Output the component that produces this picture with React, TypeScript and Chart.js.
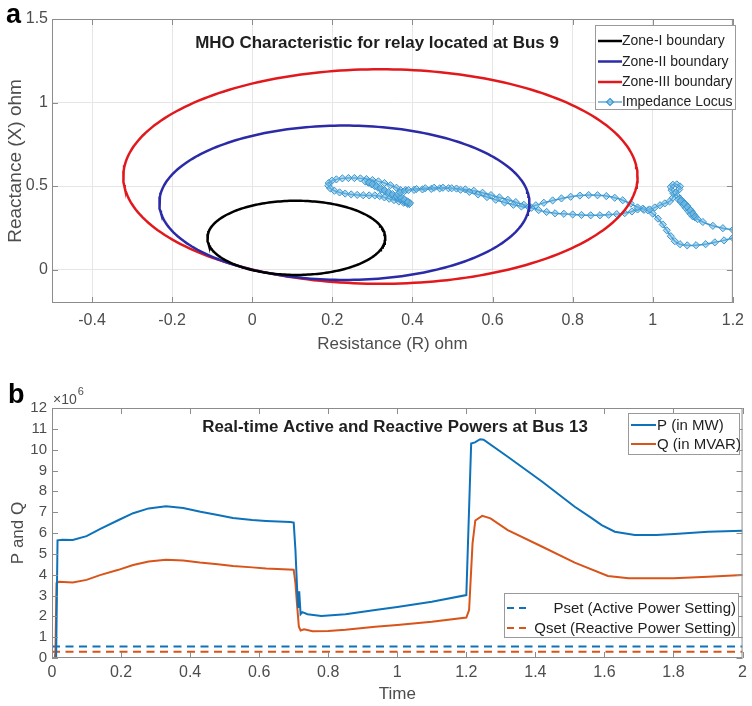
import React, { useEffect, useRef } from "react";
import { Chart, registerables } from "chart.js";

Chart.register(...registerables);

const FONT = "'Liberation Sans', Arial, Helvetica, sans-serif";
const TICK_COLOR = "#4d4d4d";
const TEXT_COLOR = "#1f1f1f";
const FRAME_COLOR = "#8c8c8c";

// ---------------- Panel a : MHO characteristic ----------------
const zoneNames = ["Zone-I boundary", "Zone-II boundary", "Zone-III boundary"];
const zoneColors = ["#000000", "#2b2ba8", "#e2191c"];
const zoneCenterR = [0.11, 0.23, 0.32];
const zoneCenterX = [0.19, 0.4, 0.557];
const zoneRadius = [0.222, 0.462, 0.642];

const locusR = [
  1.2, 1.178, 1.155, 1.132, 1.108, 1.086, 1.068, 1.055, 1.045, 1.035, 1.025, 1.013, 1.0, 0.988, 0.975,
  0.962, 0.948, 0.93, 0.91, 0.89, 0.868, 0.845, 0.822, 0.8, 0.778, 0.756, 0.735, 0.715, 0.697, 0.678,
  0.658, 0.638, 0.617, 0.596, 0.575, 0.553, 0.532, 0.51, 0.49, 0.468, 0.447, 0.425, 0.404, 0.383, 0.37,
  0.36, 0.345, 0.33, 0.315, 0.3, 0.285, 0.27, 0.255, 0.24, 0.225, 0.21, 0.199, 0.191, 0.19, 0.195,
  0.205, 0.218, 0.232, 0.247, 0.262, 0.277, 0.292, 0.306,
  0.318, 0.33, 0.342, 0.354, 0.366, 0.378, 0.388, 0.392, 0.386, 0.378, 0.37, 0.362, 0.354, 0.346, 0.338,
  0.33, 0.322, 0.314, 0.306, 0.298, 0.29, 0.282, 0.292, 0.3, 0.31, 0.32, 0.33, 0.34, 0.35, 0.36, 0.37,
  0.38, 0.39, 0.394, 0.386, 0.378, 0.37, 0.364, 0.37, 0.38, 0.39,
  0.41, 0.432, 0.454, 0.476, 0.498, 0.52, 0.542, 0.564, 0.586, 0.608, 0.63, 0.652, 0.672, 0.69, 0.708,
  0.728, 0.75, 0.772, 0.795, 0.818, 0.84, 0.862, 0.884, 0.905, 0.925, 0.945, 0.962, 0.978, 0.992, 1.005,
  1.018, 1.03, 1.042,
  1.05, 1.052, 1.047, 1.045, 1.05, 1.06, 1.068, 1.066, 1.058,
  1.062, 1.068, 1.074, 1.08, 1.086, 1.092, 1.098, 1.102, 1.106, 1.1, 1.094, 1.088, 1.082, 1.076, 1.07,
  1.064, 1.07, 1.078, 1.086, 1.094, 1.1, 1.106, 1.112,
  1.125, 1.15, 1.175, 1.2,
];
const locusX = [
  0.19, 0.175, 0.163, 0.152, 0.146, 0.145, 0.152, 0.17, 0.2, 0.235, 0.27, 0.305, 0.335, 0.355, 0.365,
  0.36, 0.348, 0.338, 0.332, 0.328, 0.325, 0.325, 0.327, 0.33, 0.334, 0.337, 0.345, 0.356, 0.37, 0.388,
  0.404, 0.418, 0.432, 0.446, 0.46, 0.472, 0.48, 0.485, 0.487, 0.486, 0.483, 0.48, 0.477, 0.476, 0.476,
  0.49, 0.505, 0.518, 0.528, 0.536, 0.542, 0.546, 0.548, 0.548, 0.546, 0.54, 0.532, 0.518, 0.502, 0.486,
  0.472, 0.462, 0.455, 0.45, 0.447, 0.445, 0.444, 0.444,
  0.44, 0.432, 0.424, 0.416, 0.408, 0.4, 0.394, 0.392, 0.4, 0.41, 0.42, 0.43, 0.44, 0.45, 0.46,
  0.47, 0.48, 0.49, 0.5, 0.51, 0.52, 0.528, 0.522, 0.512, 0.5, 0.488, 0.476, 0.464, 0.452, 0.44, 0.428,
  0.416, 0.404, 0.398, 0.41, 0.424, 0.438, 0.452, 0.462, 0.47, 0.476,
  0.482, 0.487, 0.49, 0.49, 0.487, 0.478, 0.465, 0.45, 0.434, 0.418, 0.402, 0.388, 0.378, 0.375, 0.385,
  0.4, 0.414, 0.426, 0.436, 0.443, 0.446, 0.445, 0.44, 0.43, 0.415, 0.395, 0.372, 0.358, 0.36, 0.372,
  0.385, 0.396, 0.408,
  0.43, 0.455, 0.475, 0.495, 0.508, 0.51, 0.498, 0.48, 0.462,
  0.44, 0.425, 0.41, 0.395, 0.38, 0.362, 0.345, 0.328, 0.312, 0.318, 0.335, 0.352, 0.37, 0.388, 0.405,
  0.42, 0.412, 0.395, 0.375, 0.355, 0.335, 0.318, 0.302,
  0.285, 0.262, 0.248, 0.238,
];
const rTicks = [-0.4, -0.2, 0, 0.2, 0.4, 0.6, 0.8, 1, 1.2];
const xTicks = [0, 0.5, 1, 1.5];

// ---------------- Panel b : P and Q ----------------
const timeP = [
  0, 0.012, 0.016, 0.03, 0.06, 0.1, 0.14, 0.19, 0.235, 0.28, 0.33, 0.38, 0.43, 0.48, 0.524, 0.58, 0.62,
  0.69, 0.7, 0.705, 0.71, 0.713, 0.716, 0.72, 0.725, 0.74, 0.78, 0.85, 0.936, 1.0, 1.1, 1.2, 1.214,
  1.225, 1.24, 1.25, 1.32, 1.42, 1.514, 1.56, 1.592, 1.63, 1.688, 1.75, 1.803, 1.9, 2.0,
];
const pValues = [
  0, 0, 5.65, 5.68, 5.66, 5.85, 6.2, 6.6, 6.95, 7.18, 7.28, 7.2, 7.02, 6.86, 6.72, 6.62, 6.58,
  6.53, 6.5, 5.2, 3.3, 2.4, 3.2, 2.1, 2.2, 2.1, 2.02, 2.1, 2.3, 2.45, 2.7, 3.02, 10.3,
  10.35, 10.5, 10.48, 9.66, 8.46, 7.26, 6.75, 6.38, 6.06, 5.9, 5.9, 5.95, 6.06, 6.11,
];
const timeQ = [
  0, 0.008, 0.01, 0.013, 0.02, 0.06, 0.1, 0.139, 0.19, 0.235, 0.28, 0.33, 0.38, 0.428, 0.48, 0.524,
  0.58, 0.62, 0.7, 0.705, 0.71, 0.715, 0.72, 0.73, 0.755, 0.8, 0.85, 0.936, 1.0, 1.1, 1.2, 1.208,
  1.218, 1.226, 1.246, 1.27, 1.32, 1.42, 1.514, 1.61, 1.67, 1.8, 1.9, 2.0,
];
const qValues = [
  0, 0, 0.3, 3.6, 3.66, 3.62, 3.75, 3.98, 4.22, 4.46, 4.63, 4.72, 4.68, 4.58, 4.5, 4.42,
  4.35, 4.3, 4.24, 3.6, 2.5, 1.5, 1.32, 1.38, 1.28, 1.3, 1.36, 1.5, 1.58, 1.74, 1.94, 2.3,
  5.5, 6.6, 6.82, 6.7, 6.14, 5.34, 4.58, 3.94, 3.83, 3.83, 3.9, 3.98,
];
const settingTime = [0, 2];
const pSetValues = [0.55, 0.55];
const qSetValues = [0.3, 0.3];
const timeTicks = [0, 0.2, 0.4, 0.6, 0.8, 1, 1.2, 1.4, 1.6, 1.8, 2];
const pqTicks = [0, 1, 2, 3, 4, 5, 6, 7, 8, 9, 10, 11, 12];

const P_COLOR = "#0d72b9";
const Q_COLOR = "#d9541a";
const LOCUS_COLOR = "#3a96cf";

// ---------------- helpers ----------------
function circlePoints(cx: number, cy: number, r: number) {
  const pts: { x: number; y: number }[] = [];
  const n = 240;
  for (let k = 0; k <= n; k++) {
    const a = (k / n) * 2 * Math.PI;
    pts.push({ x: cx + r * Math.cos(a), y: cy + r * Math.sin(a) });
  }
  return pts;
}
const zip = (xs: number[], ys: number[]) => xs.map((x, i) => ({ x, y: ys[i] }));
const fmt = (v: number) => String(Math.round(v * 100) / 100);

function fitText(ctx: CanvasRenderingContext2D, text: string, cx: number, cy: number, width: number, weight: string) {
  ctx.font = `${weight} 20px ${FONT}`;
  const w = ctx.measureText(text).width;
  const size = (20 * width) / w;
  ctx.font = `${weight} ${size}px ${FONT}`;
  ctx.textAlign = "center";
  ctx.textBaseline = "middle";
  ctx.fillText(text, cx, cy);
}

function legendBox(ctx: CanvasRenderingContext2D, x: number, y: number, w: number, h: number) {
  ctx.fillStyle = "#ffffff";
  ctx.fillRect(x, y, w, h);
  ctx.strokeStyle = "#9a9a9a";
  ctx.lineWidth = 1;
  ctx.strokeRect(x + 0.5, y + 0.5, w, h);
}

const framePlugin = {
  id: "frame",
  afterDraw(chart: any) {
    const { ctx, chartArea, scales } = chart;
    const { left, right, top, bottom } = chartArea;
    ctx.save();
    ctx.strokeStyle = FRAME_COLOR;
    ctx.lineWidth = 1;
    ctx.strokeRect(left + 0.5, top + 0.5, right - left - 1, bottom - top - 1);
    const L = 6;
    ctx.beginPath();
    scales.x.ticks.forEach((t: any) => {
      const px = Math.round(scales.x.getPixelForValue(t.value)) + 0.5;
      ctx.moveTo(px, bottom);
      ctx.lineTo(px, bottom - L);
      ctx.moveTo(px, top);
      ctx.lineTo(px, top + L);
    });
    scales.y.ticks.forEach((t: any) => {
      const py = Math.round(scales.y.getPixelForValue(t.value)) + 0.5;
      ctx.moveTo(left, py);
      ctx.lineTo(left + L, py);
      ctx.moveTo(right, py);
      ctx.lineTo(right - L, py);
    });
    ctx.stroke();
    ctx.restore();
  },
};

const overlayA = {
  id: "overlayA",
  afterDraw(chart: any) {
    const ctx: CanvasRenderingContext2D = chart.ctx;
    ctx.save();
    ctx.fillStyle = "#000";
    ctx.font = `bold 27px ${FONT}`;
    ctx.textAlign = "left";
    ctx.textBaseline = "alphabetic";
    ctx.fillText("a", 6, 23);
    ctx.fillStyle = TEXT_COLOR;
    fitText(ctx, "MHO Characteristic for relay located at Bus 9", 377, 43, 364, "bold");
    legendBox(ctx, 595, 25, 140, 84);
    const rows = [41, 61.5, 82, 102];
    ctx.font = `14px ${FONT}`;
    ctx.textAlign = "left";
    ctx.textBaseline = "middle";
    zoneNames.forEach((name, i) => {
      ctx.strokeStyle = zoneColors[i];
      ctx.lineWidth = 2.5;
      ctx.beginPath();
      ctx.moveTo(598, rows[i]);
      ctx.lineTo(622, rows[i]);
      ctx.stroke();
      ctx.fillStyle = TEXT_COLOR;
      ctx.fillText(name, 622, rows[i] + 0.5);
    });
    ctx.strokeStyle = LOCUS_COLOR;
    ctx.lineWidth = 1.2;
    ctx.beginPath();
    ctx.moveTo(598, rows[3]);
    ctx.lineTo(622, rows[3]);
    ctx.stroke();
    ctx.fillStyle = "rgba(120,190,230,0.6)";
    ctx.beginPath();
    ctx.moveTo(610, rows[3] - 3.5);
    ctx.lineTo(613.5, rows[3]);
    ctx.lineTo(610, rows[3] + 3.5);
    ctx.lineTo(606.5, rows[3]);
    ctx.closePath();
    ctx.fill();
    ctx.stroke();
    ctx.fillStyle = TEXT_COLOR;
    ctx.fillText("Impedance Locus", 622, rows[3] + 0.5);
    ctx.restore();
  },
};

const overlayB = {
  id: "overlayB",
  afterDraw(chart: any) {
    const ctx: CanvasRenderingContext2D = chart.ctx;
    ctx.save();
    ctx.fillStyle = "#000";
    ctx.font = `bold 27px ${FONT}`;
    ctx.textAlign = "left";
    ctx.textBaseline = "alphabetic";
    ctx.fillText("b", 8, 48);
    ctx.fillStyle = TICK_COLOR;
    ctx.font = `14px ${FONT}`;
    ctx.fillText("\u00d710", 53, 49);
    const w10 = ctx.measureText("\u00d710").width;
    ctx.font = `11px ${FONT}`;
    ctx.fillText("6", 53 + w10 + 1, 40);
    ctx.fillStyle = TEXT_COLOR;
    fitText(ctx, "Real-time Active and Reactive Powers at Bus 13", 395, 72, 386, "bold");
    legendBox(ctx, 628, 58, 111, 41);
    ctx.font = `15px ${FONT}`;
    ctx.textBaseline = "middle";
    ctx.textAlign = "left";
    const l1 = [
      { y: 70, c: P_COLOR, t: "P (in MW)" },
      { y: 89, c: Q_COLOR, t: "Q (in MVAR)" },
    ];
    l1.forEach((e) => {
      ctx.strokeStyle = e.c;
      ctx.lineWidth = 2;
      ctx.beginPath();
      ctx.moveTo(631, e.y);
      ctx.lineTo(656, e.y);
      ctx.stroke();
      ctx.fillStyle = TEXT_COLOR;
      ctx.fillText(e.t, 657, e.y + 0.5);
    });
    legendBox(ctx, 504, 238, 234, 44);
    const l2 = [
      { y: 253, c: P_COLOR, t: "Pset (Active Power Setting)" },
      { y: 273, c: Q_COLOR, t: "Qset (Reactive Power Setting)" },
    ];
    ctx.textAlign = "right";
    l2.forEach((e) => {
      ctx.strokeStyle = e.c;
      ctx.lineWidth = 2;
      ctx.setLineDash([7, 5]);
      ctx.beginPath();
      ctx.moveTo(507, e.y);
      ctx.lineTo(527, e.y);
      ctx.stroke();
      ctx.setLineDash([]);
      ctx.fillStyle = TEXT_COLOR;
      ctx.fillText(e.t, 736, e.y + 0.5);
    });
    ctx.restore();
  },
};

function makeChartA(canvas: HTMLCanvasElement) {
  const W = 752;
  const H = 355;
  const datasets: any[] = zoneNames.map((name, i) => ({
    label: name,
    data: circlePoints(zoneCenterR[i], zoneCenterX[i], zoneRadius[i]),
    showLine: true,
    borderColor: zoneColors[i],
    borderWidth: 2.5,
    pointRadius: 0,
    fill: false,
    tension: 0,
  }));
  datasets.push({
    label: "Impedance Locus",
    data: zip(locusR, locusX),
    showLine: true,
    borderColor: LOCUS_COLOR,
    borderWidth: 1.5,
    pointStyle: "rectRot",
    pointRadius: 3.6,
    pointBorderWidth: 1,
    pointBorderColor: LOCUS_COLOR,
    pointBackgroundColor: "rgba(120,190,230,0.55)",
    fill: false,
    tension: 0.2,
    clip: 0,
  });
  return new Chart(canvas, {
    type: "scatter",
    data: { datasets },
    options: {
      responsive: false,
      animation: false,
      events: [],
      layout: { padding: { left: 0, top: 19, right: W - 741, bottom: 0 } },
      plugins: { legend: { display: false }, tooltip: { enabled: false } },
      scales: {
        x: {
          type: "linear",
          min: -0.5,
          max: 1.2,
          afterBuildTicks: (s: any) => {
            s.ticks = rTicks.map((v) => ({ value: v }));
          },
          afterFit: (s: any) => {
            s.height = H - 303;
          },
          grid: { color: "#e6e6e6", drawTicks: false },
          border: { display: false },
          ticks: { color: TICK_COLOR, font: { size: 16, family: FONT }, padding: 8, autoSkip: false, callback: (v: any) => fmt(v), maxRotation: 0 },
          title: { display: true, text: "Resistance (R) ohm", color: TICK_COLOR, font: { size: 17, family: FONT }, padding: { top: 0, bottom: 0 } },
        },
        y: {
          type: "linear",
          min: -0.2,
          max: 1.5,
          afterBuildTicks: (s: any) => {
            s.ticks = xTicks.map((v) => ({ value: v }));
          },
          afterFit: (s: any) => {
            s.width = 52;
          },
          grid: { color: "#e6e6e6", drawTicks: false },
          border: { display: false },
          ticks: { color: TICK_COLOR, font: { size: 16, family: FONT }, padding: 4, autoSkip: false, callback: (v: any) => fmt(v) },
          title: { display: true, text: "Reactance (X) ohm", color: TICK_COLOR, font: { size: 19, family: FONT }, padding: { top: 4, bottom: 0 } },
        },
      },
    } as any,
    plugins: [framePlugin, overlayA],
  });
}

function makeChartB(canvas: HTMLCanvasElement) {
  const W = 752;
  const H = 351;
  const line = (label: string, xs: number[], ys: number[], color: string, dash: number[] = []) => ({
    label,
    data: zip(xs, ys),
    showLine: true,
    borderColor: color,
    borderWidth: 2,
    borderDash: dash,
    pointRadius: 0,
    fill: false,
    tension: 0,
  });
  return new Chart(canvas, {
    type: "scatter",
    data: {
      datasets: [
        line("P (in MW)", timeP, pValues, P_COLOR),
        line("Q (in MVAR)", timeQ, qValues, Q_COLOR),
        line("Pset (Active Power Setting)", settingTime, pSetValues, P_COLOR, [8, 5.5]),
        line("Qset (Reactive Power Setting)", settingTime, qSetValues, Q_COLOR, [8, 5.5]),
      ],
    },
    options: {
      responsive: false,
      animation: false,
      events: [],
      layout: { padding: { left: 0, top: 53, right: W - 744, bottom: 0 } },
      plugins: { legend: { display: false }, tooltip: { enabled: false } },
      scales: {
        x: {
          type: "linear",
          min: 0,
          max: 2,
          afterBuildTicks: (s: any) => {
            s.ticks = timeTicks.map((v) => ({ value: v }));
          },
          afterFit: (s: any) => {
            s.height = H - 303;
          },
          grid: { display: false, drawTicks: false },
          border: { display: false },
          ticks: { color: TICK_COLOR, font: { size: 16, family: FONT }, padding: 5, autoSkip: false, callback: (v: any) => fmt(v), maxRotation: 0 },
          title: { display: true, text: "Time", color: TICK_COLOR, font: { size: 17, family: FONT }, padding: { top: 0, bottom: 1 } },
        },
        y: {
          type: "linear",
          min: 0,
          max: 12,
          afterBuildTicks: (s: any) => {
            s.ticks = pqTicks.map((v) => ({ value: v }));
          },
          afterFit: (s: any) => {
            s.width = 52;
          },
          grid: { display: false, drawTicks: false },
          border: { display: false },
          ticks: { color: TICK_COLOR, font: { size: 15, family: FONT }, padding: 5, autoSkip: false, callback: (v: any) => fmt(v) },
          title: { display: true, text: "P and Q", color: TICK_COLOR, font: { size: 17, family: FONT }, padding: { top: 8, bottom: 0 } },
        },
      },
    } as any,
    plugins: [framePlugin, overlayB],
  });
}

export default function App() {
  const refA = useRef<HTMLCanvasElement>(null);
  const refB = useRef<HTMLCanvasElement>(null);
  useEffect(() => {
    Chart.defaults.font.family = FONT;
    const a = makeChartA(refA.current!);
    const b = makeChartB(refB.current!);
    return () => {
      a.destroy();
      b.destroy();
    };
  }, []);
  return (
    <div style={{ position: "absolute", left: 0, top: 0, width: 752, height: 706, background: "#ffffff", overflow: "hidden" }}>
      <canvas ref={refA} width={752} height={355} style={{ position: "absolute", left: 0, top: 0, width: 752, height: 355 }} />
      <canvas ref={refB} width={752} height={351} style={{ position: "absolute", left: 0, top: 355, width: 752, height: 351 }} />
    </div>
  );
}
